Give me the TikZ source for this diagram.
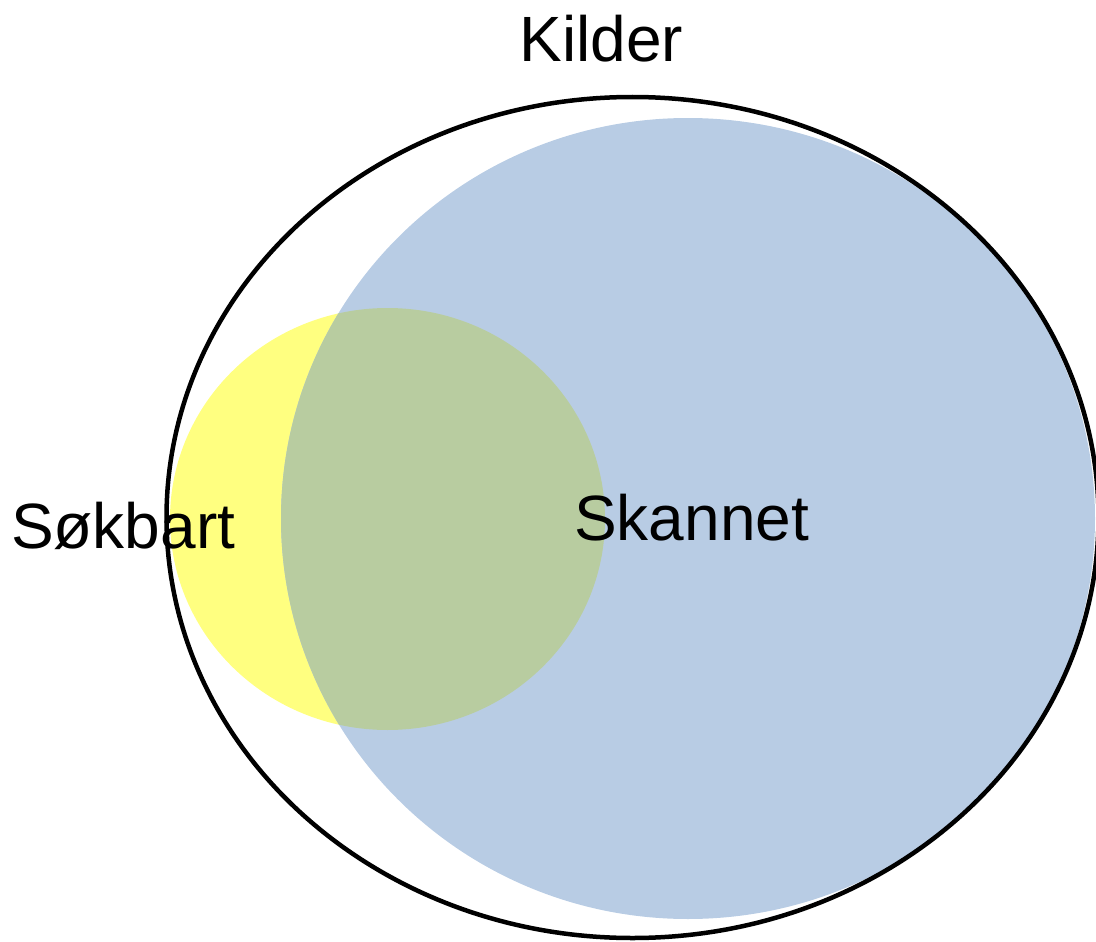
\documentclass[tikz,border=0pt]{standalone}
\usepackage{fontspec}
\setmainfont{Liberation Sans}
\definecolor{ylw}{RGB}{255,255,128}
\definecolor{blu}{RGB}{184,204,228}
\definecolor{ovl}{RGB}{184,204,160}
\tikzset{
  lbl/.style={anchor=base west, inner sep=0pt, font=\fontsize{64}{76}\selectfont},
  outer/.style={draw=black, line width=4.5pt}
}
\begin{document}
\begin{tikzpicture}[x=1pt,y=-1pt]
\useasboundingbox (0,0) rectangle (1096,942);
\fill[ylw] (387.5,519) ellipse [x radius=217.5, y radius=211];
\fill[blu] (688,518.5) ellipse [x radius=407, y radius=400.5];
\begin{scope}
  \clip (387.5,519) ellipse [x radius=217.5, y radius=211];
  \fill[ovl] (688,518.5) ellipse [x radius=407, y radius=400.5];
\end{scope}
\draw[outer] (632.5,517.5) ellipse [x radius=466, y radius=420.5];
\node[lbl] (kilder) at (519.5,62) {Kilder};
\node[lbl] (sokbart) at (11,548) {Søkbart};
\node[lbl] (skannet) at (574,540) {Skannet};
\end{tikzpicture}
\end{document}
